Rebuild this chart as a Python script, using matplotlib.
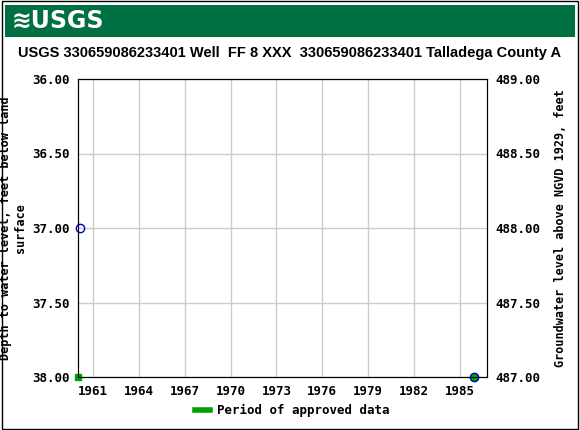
import matplotlib
matplotlib.use("Agg")
import matplotlib.pyplot as plt

years = [1960.15, 1985.92]
depths = [37.0, 38.0]
approved_years = [1960.0, 1985.92]
approved_depths = [38.0, 38.0]
xticks = [1961, 1964, 1967, 1970, 1973, 1976, 1979, 1982, 1985]
yticks = [36.0, 36.5, 37.0, 37.5, 38.0]
datum = 525.0  # elevation = datum - depth
title = "USGS 330659086233401 Well  FF 8 XXX  330659086233401 Talladega County A"

fig = plt.figure(figsize=(5.8, 4.3), dpi=100)
fig.patches.append(plt.Rectangle((0.003, 0.003), 0.994, 0.994, transform=fig.transFigure,
                                 fill=False, edgecolor="black", linewidth=1))
fig.patches.append(plt.Rectangle((5/580, 1-37/430), 570/580, 32/430, transform=fig.transFigure,
                                 facecolor="#006f41", edgecolor="none"))
fig.text(12/580, 1-21/430, "≋USGS", color="white", fontsize=17, fontweight="bold",
         va="center", ha="left", family="DejaVu Sans")
t = fig.text(0.5, 1-53/430, title, ha="center", va="center", fontsize=10.5, fontweight="bold",
             family="Liberation Sans")

ax = fig.add_axes([78/580, 1-377/430, 409/580, 298/430])
ax.set_xlim(1960.02, 1986.77)
ax.set_ylim(38.0, 36.0)
ax.set_xticks(xticks)
ax.set_yticks(yticks)
ax.set_yticklabels([f"{v:.2f}" for v in yticks])
ax.grid(True, color="#cccccc", linewidth=1)
ax.set_axisbelow(True)
mono = "DejaVu Sans Mono"
for lab in ax.get_xticklabels() + ax.get_yticklabels():
    lab.set_family(mono); lab.set_fontweight("bold"); lab.set_fontsize(9)
ax.tick_params(length=0, pad=6)

ax.plot(approved_years, approved_depths, "s", color="#00a000", markersize=4, clip_on=False, zorder=3)
ax.plot(years, depths, "o", markerfacecolor="none", markeredgecolor="#0000cc", markersize=6,
        clip_on=False, zorder=4)

ax.set_ylabel("Depth to water level, feet below land\nsurface", family=mono, fontweight="bold",
              fontsize=8.5, labelpad=4)
ax2 = ax.twinx()
ax2.set_ylim(datum - 38.0, datum - 36.0)
ax2.set_yticks([datum - v for v in yticks])
ax2.set_yticklabels([f"{datum - v:.2f}" for v in yticks])
for lab in ax2.get_yticklabels():
    lab.set_family(mono); lab.set_fontweight("bold"); lab.set_fontsize(9)
ax2.tick_params(length=0, pad=6)
ax2.set_ylabel("Groundwater level above NGVD 1929, feet", family=mono, fontweight="bold",
               fontsize=8.5, labelpad=10)

fig.lines.append(plt.Line2D([195/580, 210/580], [1-410/430]*2, transform=fig.transFigure,
                            color="#00a000", linewidth=4))
fig.text(217/580, 1-410/430, "Period of approved data", family=mono, fontweight="bold",
         fontsize=9, va="center")

fig.savefig("out.png", dpi=100)
